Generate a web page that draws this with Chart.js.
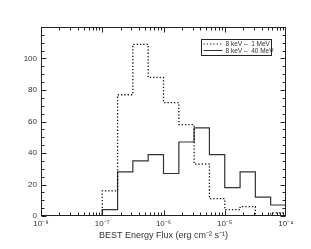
<!DOCTYPE html>
<html>
<head>
<meta charset="utf-8">
<script src="https://cdn.jsdelivr.net/npm/chart.js@4.4.0/dist/chart.umd.min.js"></script>
<style>
  html, body { margin: 0; padding: 0; background: #fff; }
  #wrap { width: 311px; height: 249px; }
</style>
</head>
<body>
<div id="wrap"><canvas id="chart"></canvas></div>
<script>
// bin edges (0.25 decade wide) and counts per bin
const binEdges = [1e-8, 1.78e-8, 3.16e-8, 5.62e-8, 1e-7, 1.78e-7, 3.16e-7, 5.62e-7, 1e-6,
  1.78e-6, 3.16e-6, 5.62e-6, 1e-5, 1.78e-5, 3.16e-5, 5.62e-5, 1e-4];
const counts1MeV = [0, 0, 0, 0, 16, 77, 109, 88, 72, 58, 33, 11, 4, 6, 0, 2];
const counts40MeV = [0, 0, 0, 0, 4, 28, 35, 39, 27, 47, 56, 39, 18, 28, 12, 7];
const seriesLabels = ['8 keV –  1 MeV', '8 keV –  40 MeV'];
const xTicks = [1e-8, 1e-7, 1e-6, 1e-5, 1e-4];
const xTickLabels = ['10⁻⁸', '10⁻⁷', '10⁻⁶', '10⁻⁵', '10⁻⁴'];
const yTicks = [0, 20, 40, 60, 80, 100];

const FONT = 'Liberation Sans, Arial, sans-serif';
const INK = '#222';

// histogram as step line: one point per left edge + closing point at last edge
function toSteps(counts) {
  const pts = counts.map((c, i) => ({ x: binEdges[i], y: c }));
  pts.push({ x: binEdges[binEdges.length - 1], y: counts[counts.length - 1] });
  return pts;
}

// frame, inward ticks and the boxed legend
const frameAndTicks = {
  id: 'frameAndTicks',
  afterDatasetsDraw(chart) {
    const { ctx, chartArea: a, scales: { x, y } } = chart;
    const L = Math.round(a.left) + 0.5, R = Math.round(a.right) - 0.5;
    const T = Math.round(a.top) + 0.5, B = Math.round(a.bottom) - 0.5;
    ctx.save();
    ctx.strokeStyle = INK;
    ctx.lineWidth = 1;
    ctx.strokeRect(L, T, R - L, B - T);

    ctx.beginPath();
    // x ticks (log decades + minor)
    for (let e = -8; e < -4; e++) {
      for (let k = 1; k <= 9; k++) {
        const v = k * Math.pow(10, e);
        const px = Math.round(x.getPixelForValue(v)) + 0.5;
        const len = k === 1 ? 5 : 3;
        ctx.moveTo(px, B); ctx.lineTo(px, B - len);
        ctx.moveTo(px, T); ctx.lineTo(px, T + len);
      }
    }
    // y ticks
    for (let v = 0; v <= 120; v += 5) {
      const py = Math.round(y.getPixelForValue(v)) + 0.5;
      const len = v % 20 === 0 ? 5 : 3;
      ctx.moveTo(L, py); ctx.lineTo(L + len, py);
      ctx.moveTo(R, py); ctx.lineTo(R - len, py);
    }
    ctx.stroke();

    // legend box
    const bx = 201.5, by = 39.5, bw = 70, bh = 16;
    ctx.strokeRect(bx, by, bw, bh);
    ctx.font = '6.5px ' + FONT;
    ctx.fillStyle = '#333';
    ctx.textBaseline = 'middle';
    chart.data.datasets.forEach((ds, i) => {
      const ly = by + 4.5 + i * 6.5;
      ctx.beginPath();
      ctx.setLineDash(ds.borderDash || []);
      ctx.strokeStyle = ds.borderColor;
      ctx.lineWidth = 1;
      ctx.moveTo(bx + 2, ly); ctx.lineTo(bx + 21, ly);
      ctx.stroke();
      ctx.setLineDash([]);
      ctx.fillText(ds.label, bx + 24, ly + 0.5);
    });
    ctx.restore();
  }
};

new Chart(document.getElementById('chart'), {
  type: 'line',
  data: {
    datasets: [
      {
        label: seriesLabels[0],
        data: toSteps(counts1MeV),
        stepped: 'before',
        borderColor: '#111',
        borderWidth: 1.3,
        borderDash: [1.3, 2],
        pointRadius: 0,
        fill: false
      },
      {
        label: seriesLabels[1],
        data: toSteps(counts40MeV),
        stepped: 'before',
        borderColor: '#333',
        borderWidth: 1.2,
        pointRadius: 0,
        fill: false
      }
    ]
  },
  options: {
    responsive: true,
    maintainAspectRatio: false,
    animation: false,
    layout: { padding: { top: 27, right: 25, left: 0, bottom: 0 } },
    plugins: {
      legend: { display: false },
      tooltip: { enabled: false }
    },
    scales: {
      x: {
        type: 'logarithmic',
        min: 1e-8,
        max: 1e-4,
        grid: { display: false, drawTicks: false },
        border: { display: false },
        afterBuildTicks: (s) => { s.ticks = xTicks.map((v) => ({ value: v })); },
        afterFit: (s) => { s.height = 33; },
        ticks: {
          autoSkip: false,
          maxRotation: 0,
          padding: 3,
          color: '#333',
          font: { family: FONT, size: 8 },
          callback: (v) => {
            const i = xTicks.indexOf(v);
            return i >= 0 ? xTickLabels[i] : '';
          }
        },
        title: {
          display: true,
          text: 'BEST Energy Flux (erg cm⁻² s⁻¹)',
          color: '#333',
          font: { family: FONT, size: 9 },
          padding: { top: 2, bottom: 8 }
        }
      },
      y: {
        min: 0,
        max: 120,
        grid: { display: false, drawTicks: false },
        border: { display: false },
        afterFit: (s) => { s.width = 41; },
        ticks: {
          stepSize: 20,
          padding: 4,
          color: '#333',
          font: { family: FONT, size: 8 },
          callback: (v) => (yTicks.includes(v) ? String(v) : '')
        }
      }
    }
  },
  plugins: [frameAndTicks]
});
</script>
</body>
</html>
